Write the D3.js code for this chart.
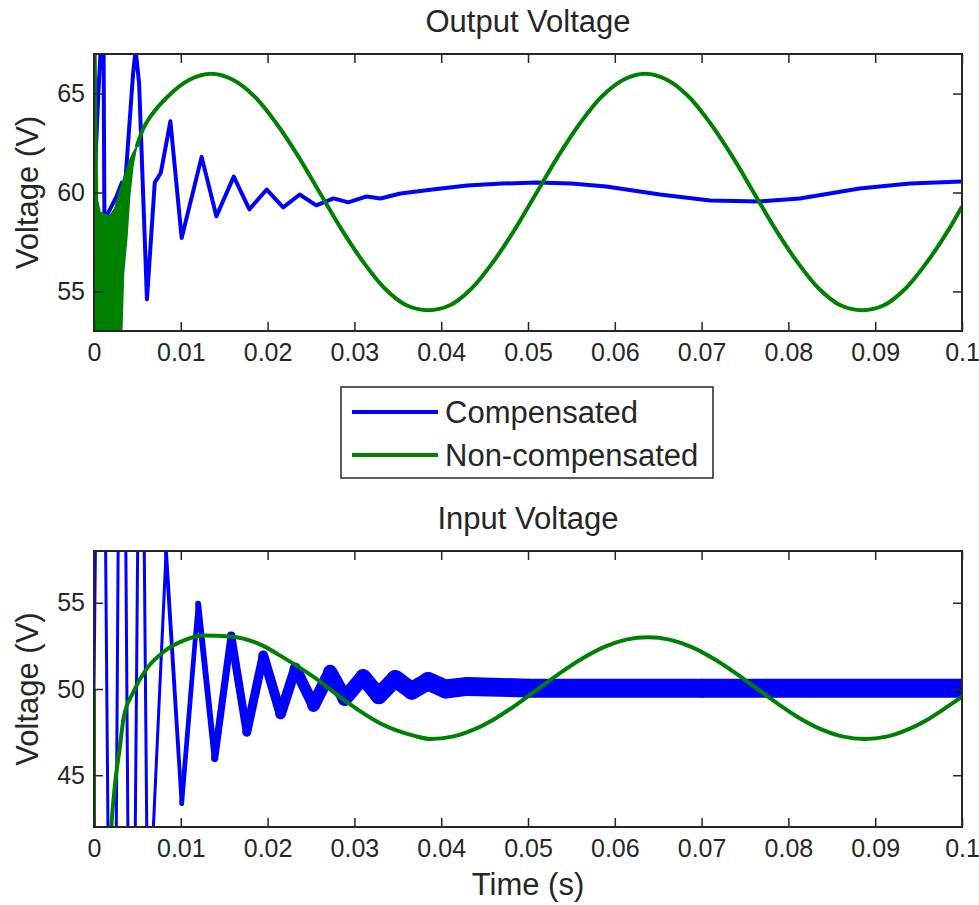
<!DOCTYPE html>
<html>
<head>
<meta charset="utf-8">
<script src="https://cdn.jsdelivr.net/npm/d3@7"></script>
<style>
  body { margin: 0; background: #fff; }
  text { font-family: "Liberation Sans", Arial, sans-serif; fill: #262626; }
</style>
</head>
<body>
<script>
// ---- data ----
var xTicks = [0, 0.01, 0.02, 0.03, 0.04, 0.05, 0.06, 0.07, 0.08, 0.09, 0.1];
var xTickLabels = ["0", "0.01", "0.02", "0.03", "0.04", "0.05", "0.06", "0.07", "0.08", "0.09", "0.1"];
var outTicks = [55, 60, 65];
var inTicks = [45, 50, 55];
var seriesNames = ["Compensated", "Non-compensated"];

// output voltage, compensated [t, V]
var compOut = [[0, 60], [0.0005, 65], [0.0008, 67.5], [0.0011, 67.5], [0.0012, 58.6], [0.0026, 59.8],
  [0.0032, 60.5], [0.0033, 57.1], [0.0036, 60.5], [0.0045, 66], [0.0048, 67.2], [0.0052, 65.5],
  [0.0061, 54.6], [0.007, 60.5], [0.0077, 61], [0.0088, 63.6], [0.0101, 57.7], [0.0124, 61.8],
  [0.0141, 58.8], [0.0161, 60.8], [0.0179, 59.15], [0.0199, 60.15], [0.0218, 59.25], [0.0237, 59.9],
  [0.0256, 59.35], [0.0276, 59.7], [0.0293, 59.5], [0.0314, 59.8], [0.033, 59.7], [0.0353, 59.95],
  [0.039, 60.15], [0.043, 60.35], [0.047, 60.45], [0.051, 60.5], [0.055, 60.45], [0.059, 60.3],
  [0.0652, 59.9], [0.071, 59.6], [0.0767, 59.55], [0.0813, 59.7], [0.0882, 60.2], [0.094, 60.45],
  [0.1, 60.55]];

// output voltage, non-compensated: switching burst at start (envelope) then the swing
var burstT  = [0, 0.0002, 0.0004, 0.0007, 0.0012, 0.0018, 0.0024, 0.003, 0.0032, 0.0034, 0.0038, 0.0041, 0.0045, 0.0049];
var burstHi = [68, 68, 59.6, 59.0, 58.9, 58.8, 59.2, 60.1, 60.4, 60.7, 61.2, 61.6, 62.0, 62.3];
var burstLo = [52, 52, 52, 52, 52, 52, 52, 52, 53, 55.9, 57.8, 59.8, 61.4, 62.3];
var nonCompOut = [[0.0049, 62.3], [0.006, 63.5], [0.0085, 64.85], [0.011, 65.7], [0.0135, 66],
  [0.016, 65.7], [0.0185, 64.85], [0.021, 63.5], [0.0235, 61.85], [0.026, 60], [0.0285, 58.15],
  [0.031, 56.5], [0.0335, 55.15], [0.036, 54.3], [0.0385, 54.05], [0.041, 54.3], [0.0435, 55.15],
  [0.046, 56.5], [0.0485, 58.15], [0.051, 60], [0.0535, 61.85], [0.056, 63.5], [0.0585, 64.85],
  [0.061, 65.7], [0.0635, 66], [0.066, 65.7], [0.0685, 64.85], [0.071, 63.5], [0.0735, 61.85],
  [0.076, 60], [0.0785, 58.15], [0.081, 56.5], [0.0835, 55.15], [0.086, 54.3], [0.0885, 54.05],
  [0.091, 54.3], [0.0935, 55.15], [0.096, 56.5], [0.0985, 58.15], [0.1, 59.3]];

// input voltage, compensated [t, V] and ripple (V p-p) at each point
var compIn = [[0, 50], [0.0008, 90], [0.00215, 10], [0.0032, 90], [0.0043, 15], [0.0054, 80],
  [0.0062, 35], [0.0083, 57.9], [0.0101, 43.35], [0.012, 54.95], [0.0139, 45.97], [0.0158, 53.1],
  [0.0176, 47.5], [0.0195, 51.95], [0.0215, 48.55], [0.0232, 51.2], [0.0253, 49.05], [0.0272, 50.99],
  [0.0289, 49.45], [0.031, 50.7], [0.0328, 49.6], [0.0347, 50.6], [0.0366, 49.9], [0.0385, 50.45],
  [0.0405, 50.0], [0.043, 50.15], [0.05, 50.05], [0.07, 50.05], [0.1, 50.05]];
var compInRipple = [0.15, 0.15, 0.15, 0.15, 0.15, 0.15, 0.15, 0.2, 0.25, 0.3, 0.38, 0.45, 0.5, 0.55,
  0.6, 0.62, 0.7, 0.8, 0.85, 0.9, 0.95, 1.0, 1.02, 1.05, 1.1, 1.1, 1.1, 1.1, 1.1];

// input voltage, non-compensated: step at t=0, then the rise and swing [t, V]
var nonCompInStep = [[0, 50], [0, 41]];
var nonCompIn = [[0.0018, 40], [0.002, 42], [0.0024, 44.4], [0.003, 46.7],
  [0.0034, 48.3], [0.0045, 49.8], [0.0061, 51.2], [0.008, 52.15], [0.0103, 52.8], [0.0126, 53.1],
  [0.0157, 53.05], [0.0195, 52.5], [0.0214, 51.95], [0.0253, 50.7], [0.0291, 49.25], [0.033, 48.0],
  [0.0368, 47.3], [0.0388, 47.1], [0.0413, 47.24], [0.0438, 47.66], [0.0463, 48.31], [0.0488, 49.14],
  [0.0513, 50.05], [0.0538, 50.96], [0.0563, 51.78], [0.0588, 52.44], [0.0613, 52.86], [0.0638, 53.0],
  [0.0663, 52.86], [0.0688, 52.44], [0.0713, 51.78], [0.0738, 50.96], [0.0763, 50.05], [0.0788, 49.14],
  [0.0813, 48.31], [0.0838, 47.66], [0.0863, 47.24], [0.0888, 47.1], [0.0913, 47.24], [0.0938, 47.66],
  [0.0963, 48.31], [0.0988, 49.14], [0.1, 49.55]];

// ---- layout ----
var W = 979, H = 905;
var left = 94, right = 962;
var blue = "#0000ff", green = "#008000", ink = "#262626";
var labelSize = 31, tickSize = 25;

var svg = d3.select("body").append("svg")
    .attr("width", W)
    .attr("height", H);

var x = d3.scaleLinear().domain([0, 0.1]).range([left, right]);

function panel(id, top, bottom, yDomain, yTicks, title) {
  var y = d3.scaleLinear().domain(yDomain).range([bottom, top]);
  var g = svg.append("g");

  g.append("clipPath").attr("id", id)
    .append("rect")
      .attr("x", left).attr("y", top)
      .attr("width", right - left).attr("height", bottom - top);

  var plot = g.append("g").attr("clip-path", "url(#" + id + ")");

  // axes: ticks inward on all four sides (box)
  var ax = g.append("g").attr("class", "axes");
  ax.append("g")
      .attr("transform", "translate(0," + bottom + ")")
      .call(d3.axisBottom(x).tickValues(xTicks).tickSizeInner(-9).tickSizeOuter(0).tickPadding(12)
        .tickFormat(function(d, i) { return xTickLabels[i]; }));
  ax.append("g")
      .attr("transform", "translate(0," + top + ")")
      .call(d3.axisTop(x).tickValues(xTicks).tickSizeInner(-9).tickSizeOuter(0).tickFormat(""));
  ax.append("g")
      .attr("transform", "translate(" + left + ",0)")
      .call(d3.axisLeft(y).tickValues(yTicks).tickSizeInner(-9).tickSizeOuter(0).tickPadding(9));
  ax.append("g")
      .attr("transform", "translate(" + right + ",0)")
      .call(d3.axisRight(y).tickValues(yTicks).tickSizeInner(-9).tickSizeOuter(0).tickFormat(""));
  ax.selectAll(".domain").remove();
  ax.selectAll("line").attr("stroke", ink).attr("stroke-width", 1.5);
  ax.selectAll("text").attr("font-size", tickSize).attr("fill", ink)
      .style("font-family", "'Liberation Sans', Arial, sans-serif");

  g.append("rect")
      .attr("x", left).attr("y", top)
      .attr("width", right - left).attr("height", bottom - top)
      .attr("fill", "none").attr("stroke", ink).attr("stroke-width", 2);

  g.append("text")
      .attr("x", (left + right) / 2).attr("y", top - 22)
      .attr("text-anchor", "middle")
      .attr("font-size", labelSize)
      .text(title);

  g.append("text")
      .attr("transform", "translate(38," + ((top + bottom) / 2) + ") rotate(-90)")
      .attr("text-anchor", "middle")
      .attr("font-size", labelSize)
      .text("Voltage (V)");

  return {y: y, plot: plot};
}

// ---- top: output voltage ----
var p1 = panel("clipTop", 54, 331, [53, 67], outTicks, "Output Voltage");

var line1 = d3.line().x(function(d) { return x(d[0]); }).y(function(d) { return p1.y(d[1]); });

p1.plot.append("path")
    .datum(compOut)
    .attr("d", line1)
    .attr("fill", "none")
    .attr("stroke", blue)
    .attr("stroke-width", 4)
    .attr("stroke-linejoin", "round");

p1.plot.append("path")
    .datum(burstT)
    .attr("d", d3.area()
      .x(function(d) { return x(d); })
      .y0(function(d, i) { return p1.y(burstLo[i]); })
      .y1(function(d, i) { return p1.y(burstHi[i]); }))
    .attr("fill", green)
    .attr("stroke", green)
    .attr("stroke-width", 1.5);

p1.plot.append("path")
    .datum(nonCompOut)
    .attr("d", line1.curve(d3.curveCatmullRom))
    .attr("fill", "none")
    .attr("stroke", green)
    .attr("stroke-width", 4);

// ---- bottom: input voltage ----
var p2 = panel("clipBot", 551, 827, [42, 58], inTicks, "Input Voltage");

// compensated input drawn segment by segment, thickness = switching ripple
var segs = d3.pairs(compIn.map(function(d, i) { return [d[0], d[1], compInRipple[i]]; }));
p2.plot.selectAll(".seg")
  .data(segs)
  .enter().append("line")
    .attr("class", "seg")
    .attr("x1", function(d) { return x(d[0][0]); })
    .attr("y1", function(d) { return p2.y(d[0][1]); })
    .attr("x2", function(d) { return x(d[1][0]); })
    .attr("y2", function(d) { return p2.y(d[1][1]); })
    .attr("stroke", blue)
    .attr("stroke-linecap", "round")
    .attr("stroke-width", function(d) {
      var r = (d[0][2] + d[1][2]) / 2;
      return Math.max(3, p2.y(50) - p2.y(50 + r));
    });

var line2 = d3.line().x(function(d) { return x(d[0]); }).y(function(d) { return p2.y(d[1]); });
p2.plot.append("path")
    .datum(nonCompInStep)
    .attr("d", line2)
    .attr("fill", "none")
    .attr("stroke", green)
    .attr("stroke-width", 4);
p2.plot.append("path")
    .datum(nonCompIn)
    .attr("d", line2.curve(d3.curveMonotoneX))
    .attr("fill", "none")
    .attr("stroke", green)
    .attr("stroke-width", 4)
    .attr("stroke-linejoin", "round");

svg.append("text")
    .attr("x", (left + right) / 2).attr("y", 895)
    .attr("text-anchor", "middle")
    .attr("font-size", labelSize)
    .text("Time (s)");

// ---- legend ----
var legend = svg.append("g").attr("transform", "translate(341,387)");
legend.append("rect")
    .attr("width", 372).attr("height", 91)
    .attr("fill", "#fff").attr("stroke", ink).attr("stroke-width", 1.5);
var item = legend.selectAll(".item")
  .data(seriesNames)
  .enter().append("g")
    .attr("class", "item")
    .attr("transform", function(d, i) { return "translate(0," + (25 + i * 43) + ")"; });
item.append("line")
    .attr("x1", 11).attr("x2", 97)
    .attr("stroke", function(d, i) { return i === 0 ? blue : green; })
    .attr("stroke-width", 4);
item.append("text")
    .attr("x", 104).attr("dy", "0.35em")
    .attr("font-size", labelSize)
    .text(function(d) { return d; });
</script>
</body>
</html>
